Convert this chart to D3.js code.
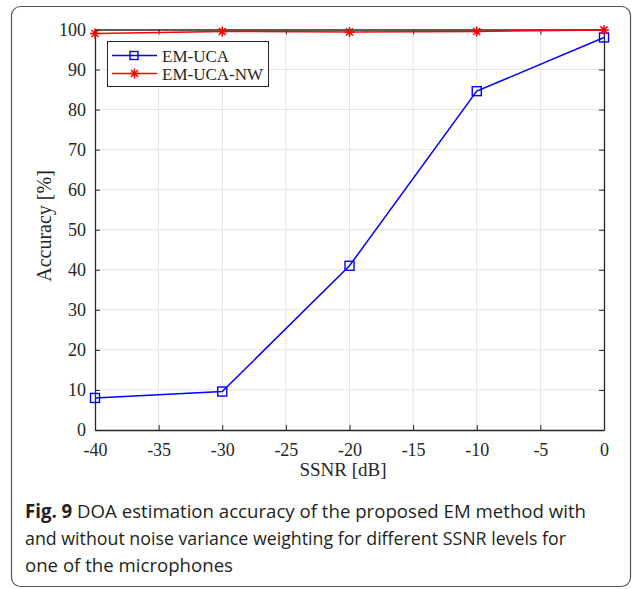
<!DOCTYPE html>
<meta charset="utf-8">
<head>
<style>
  body { margin: 0; background: #fff; }
  .grid line { stroke: #e3e3e3; stroke-width: 1; }
</style>
<title>DOA estimation accuracy</title>
</head>
<svg width="635" height="589"></svg>
<script src="https://cdn.jsdelivr.net/npm/d3@7/dist/d3.min.js"></script>
<script>
var ssnr = [-40, -30, -20, -10, 0];
var emUca = [8, 9.6, 41, 84.6, 98];
var emUcaNw = [99, 99.5, 99.4, 99.5, 99.9];
var xTicks = [-40, -35, -30, -25, -20, -15, -10, -5, 0];
var yTicks = [0, 10, 20, 30, 40, 50, 60, 70, 80, 90, 100];
var seriesNames = ["EM-UCA", "EM-UCA-NW"];
var captionLines = [
  ["Fig. 9", " DOA estimation accuracy of the proposed EM method with"],
  ["", "and without noise variance weighting for different SSNR levels for"],
  ["", "one of the microphones"]
];

var svg = d3.select("svg");

// figure frame
svg.append("rect")
  .attr("x", 11.5).attr("y", 6.5)
  .attr("width", 619).attr("height", 580)
  .attr("rx", 9)
  .attr("fill", "none")
  .attr("stroke", "#555")
  .attr("stroke-width", 1.2);

var pLeft = 95, pRight = 604, pTop = 29.5, pBottom = 430;
var x = d3.scaleLinear().domain([-40, 0]).range([pLeft, pRight]);
var y = d3.scaleLinear().domain([0, 100]).range([pBottom, pTop]);
var fmt = function(d) { return String(d); };

// grid
var grid = svg.append("g").attr("class", "grid");
grid.selectAll(".gx").data(xTicks.slice(1, -1)).enter().append("line")
  .attr("x1", function(d) { return x(d); }).attr("x2", function(d) { return x(d); })
  .attr("y1", pTop).attr("y2", pBottom);
grid.selectAll(".gy").data(yTicks.slice(1, -1)).enter().append("line")
  .attr("y1", function(d) { return y(d); }).attr("y2", function(d) { return y(d); })
  .attr("x1", pLeft).attr("x2", pRight);

// axes (MATLAB style, ticks inside)
function styleAxis(g) {
  g.select(".domain").attr("stroke", "#262626").attr("stroke-width", 1.3);
  g.selectAll(".tick line").attr("stroke", "#262626").attr("stroke-width", 1);
  g.selectAll(".tick text")
    .attr("font-family", "Liberation Serif, serif")
    .attr("font-size", "18px")
    .attr("fill", "#262626");
}
svg.append("g")
  .attr("transform", "translate(0," + pBottom + ")")
  .call(d3.axisBottom(x).tickValues(xTicks).tickFormat(fmt).tickSizeInner(-5).tickSizeOuter(0).tickPadding(13))
  .call(styleAxis);
svg.append("g")
  .attr("transform", "translate(" + pLeft + ",0)")
  .call(d3.axisLeft(y).tickValues(yTicks).tickFormat(fmt).tickSizeInner(-5).tickSizeOuter(0).tickPadding(9))
  .call(styleAxis);
svg.append("g")
  .attr("transform", "translate(0," + pTop + ")")
  .call(d3.axisTop(x).tickValues(xTicks).tickSizeInner(-5).tickSizeOuter(0).tickFormat(""))
  .call(styleAxis);
svg.append("g")
  .attr("transform", "translate(" + pRight + ",0)")
  .call(d3.axisRight(y).tickValues(yTicks).tickSizeInner(-5).tickSizeOuter(0).tickFormat(""))
  .call(styleAxis);

// axis labels
svg.append("text")
  .attr("x", 343).attr("y", 476)
  .attr("text-anchor", "middle")
  .attr("font-family", "Liberation Serif, serif")
  .attr("font-size", "19px").attr("fill", "#262626")
  .text("SSNR [dB]");
svg.append("text")
  .attr("transform", "translate(51,226) rotate(-90)")
  .attr("text-anchor", "middle")
  .attr("font-family", "Liberation Serif, serif")
  .attr("font-size", "20px").attr("fill", "#262626")
  .text("Accuracy [%]");

var line = d3.line()
  .x(function(d) { return x(d[0]); })
  .y(function(d) { return y(d[1]); });

var starPath = function(cx, cy, r) {
  var p = "";
  for (var i = 0; i < 4; i++) {
    var a = i * Math.PI / 4;
    var dx = r * Math.cos(a), dy = r * Math.sin(a);
    p += "M" + (cx - dx) + "," + (cy - dy) + "L" + (cx + dx) + "," + (cy + dy);
  }
  return p;
};

// EM-UCA
var blueData = d3.zip(ssnr, emUca);
svg.append("path").datum(blueData)
  .attr("d", line).attr("fill", "none")
  .attr("stroke", "#0000ff").attr("stroke-width", 1.5);
svg.selectAll(".sq").data(blueData).enter().append("rect")
  .attr("x", function(d) { return x(d[0]) - 4.5; })
  .attr("y", function(d) { return y(d[1]) - 4.5; })
  .attr("width", 9).attr("height", 9)
  .attr("fill", "none").attr("stroke", "#0000ff").attr("stroke-width", 1.4);

// EM-UCA-NW
var redData = d3.zip(ssnr, emUcaNw);
svg.append("path").datum(redData)
  .attr("d", line).attr("fill", "none")
  .attr("stroke", "#ff0000").attr("stroke-width", 1.5);
svg.selectAll(".st").data(redData).enter().append("path")
  .attr("d", function(d) { return starPath(x(d[0]), y(d[1]), 5); })
  .attr("stroke", "#ff0000").attr("stroke-width", 1.5);

// legend
var lg = svg.append("g");
lg.append("rect")
  .attr("x", 107.5).attr("y", 41.5).attr("width", 161).attr("height", 45)
  .attr("fill", "#fff").attr("stroke", "#262626").attr("stroke-width", 1);
var legendColors = ["#0000ff", "#ff0000"];
seriesNames.forEach(function(name, i) {
  var ly = 55.5 + i * 18;
  lg.append("line").attr("x1", 112).attr("x2", 157).attr("y1", ly).attr("y2", ly)
    .attr("stroke", legendColors[i]).attr("stroke-width", 1.5);
  if (i === 0) {
    lg.append("rect").attr("x", 130).attr("y", ly - 4).attr("width", 8).attr("height", 8)
      .attr("fill", "none").attr("stroke", legendColors[i]).attr("stroke-width", 1.4);
  } else {
    lg.append("path").attr("d", starPath(134.5, ly, 5))
      .attr("stroke", legendColors[i]).attr("stroke-width", 1.5);
  }
  lg.append("text").attr("x", 162).attr("y", ly + 6)
    .attr("font-family", "Liberation Serif, serif")
    .attr("font-size", "17px").attr("fill", "#262626")
    .text(name);
});

// caption
var capEnds = [586, 566, 233];
captionLines.forEach(function(parts, i) {
  var t = svg.append("text")
    .attr("x", 25).attr("y", 518 + i * 27)
    .attr("font-family", "Open Sans, sans-serif")
    .attr("font-size", "19px").attr("fill", "#231f20")
    .attr("textLength", capEnds[i] - 25)
    .attr("lengthAdjust", "spacingAndGlyphs");
  if (parts[0]) t.append("tspan").attr("font-weight", "bold").text(parts[0]);
  t.append("tspan").text(parts[1]);
});
</script>
